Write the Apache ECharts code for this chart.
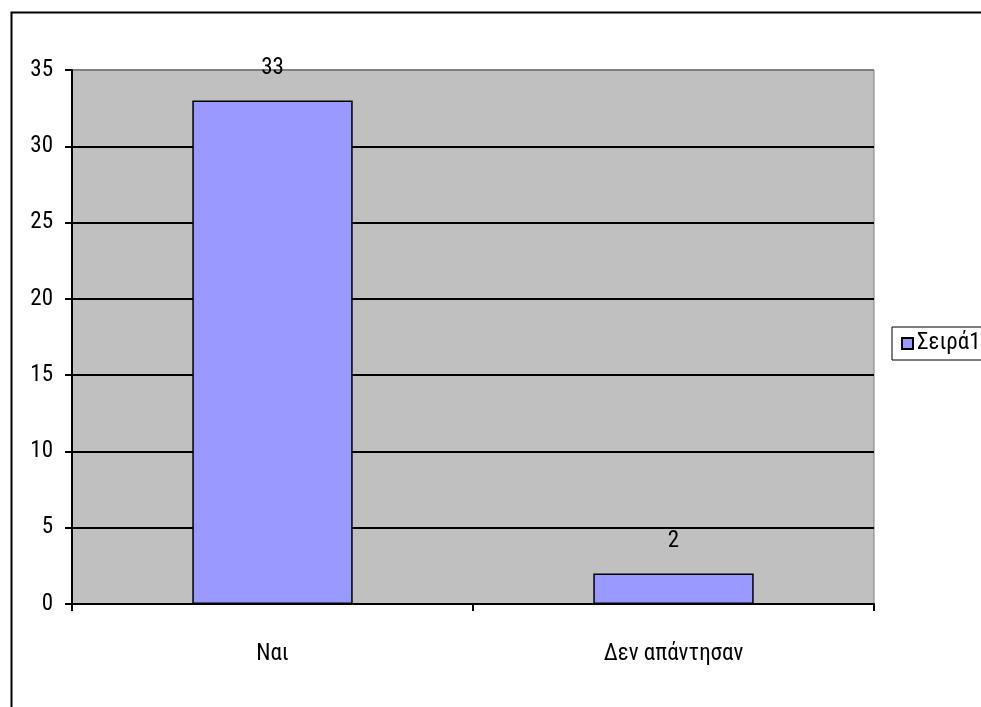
<!DOCTYPE html>
<html>
<head>
<meta charset="utf-8">
<script src="https://cdn.jsdelivr.net/npm/echarts@6/dist/echarts.min.js"></script>
<style>
  html, body { margin: 0; padding: 0; background: #fff; }
  #chart { width: 981px; height: 707px; }
</style>
</head>
<body>
<div id="chart"></div>
<script>
// Responses per answer
const categories = ['Ναι', 'Δεν απάντησαν'];
const seriesName = 'Σειρά1';
const values = [33, 2];
const yTicks = [0, 5, 10, 15, 20, 25, 30, 35];

const FONT = '"Roboto Condensed", "Liberation Sans", sans-serif';
const FONT_SIZE = 23;

const chart = echarts.init(document.getElementById('chart'), null, { renderer: 'canvas' });

// gridlines black, topmost one blends with the gray plot frame
const gridColors = yTicks.map((t, i) => (i === yTicks.length - 1 ? '#808080' : '#000000'));

chart.setOption({
  animation: false,
  backgroundColor: '#ffffff',
  textStyle: { fontFamily: FONT },
  graphic: [{
    type: 'rect',
    left: 9, top: 10,
    shape: { width: 1100, height: 800 },
    style: { fill: 'none', stroke: '#000', lineWidth: 2 },
    z: 100
  }],
  grid: {
    left: 72, top: 70, right: 107, bottom: 103,
    show: true,
    backgroundColor: '#c0c0c0',
    borderColor: '#808080',
    borderWidth: 1
  },
  legend: {
    left: 892, top: 327,
    orient: 'vertical',
    data: [seriesName],
    borderColor: '#000',
    borderWidth: 1,
    padding: [5, 30, 5, 9],
    itemWidth: 11, itemHeight: 11,
    itemGap: 6,
    textStyle: { fontSize: FONT_SIZE, color: '#000', fontFamily: FONT, padding: [0, 0, 0, -1] },
    icon: 'rect'
  },
  xAxis: {
    type: 'category',
    data: categories,
    axisLine: { lineStyle: { color: '#000', width: 2 } },
    axisTick: { show: true, length: 7, lineStyle: { color: '#000', width: 2 } },
    axisLabel: { fontSize: FONT_SIZE, color: '#000', margin: 39, fontFamily: FONT },
    splitLine: { show: false }
  },
  yAxis: {
    type: 'value',
    min: 0, max: 35, interval: 5,
    axisLine: { show: true, lineStyle: { color: '#000', width: 2 } },
    axisTick: { show: true, length: 7, lineStyle: { color: '#000', width: 2 } },
    axisLabel: { fontSize: FONT_SIZE, color: '#000', margin: 19, fontFamily: FONT },
    splitLine: { show: true, lineStyle: { color: gridColors, width: 2 } }
  },
  series: [{
    name: seriesName,
    type: 'bar',
    data: values,
    barWidth: '40%',
    itemStyle: { color: '#9999ff', borderColor: '#000', borderWidth: 1.5 },
    label: {
      show: true, position: 'top', distance: 21,
      fontSize: FONT_SIZE, color: '#000', fontFamily: FONT
    }
  }]
});
</script>
</body>
</html>
